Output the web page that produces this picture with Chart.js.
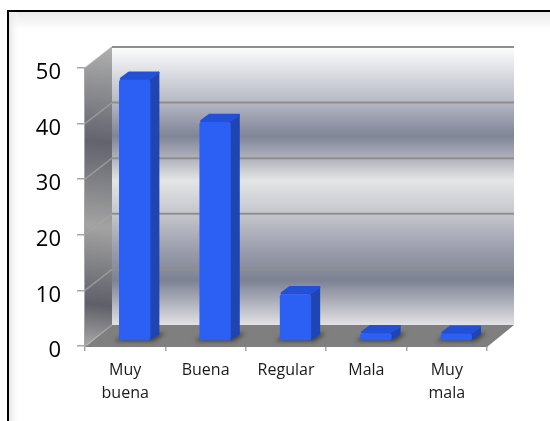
<!DOCTYPE html>
<html>
<head>
<meta charset="utf-8">
<style>
    html, body { margin: 0; padding: 0; background: #fff; overflow: hidden; }
    canvas { display: block; }
</style>
<script src="https://cdn.jsdelivr.net/npm/chart.js@4/dist/chart.umd.min.js"></script>
</head>
<body>
<canvas id="myChart" width="550" height="421"></canvas>
<script>
const categorias = [["Muy", "buena"], "Buena", "Regular", "Mala", ["Muy", "mala"]];
const valores = [47, 39.4, 8.4, 1.4, 1.3];
const ticksY = [0, 10, 20, 30, 40, 50];

// desplazamiento de la pared del fondo y de las barras respecto al eje
const fondoX = 27;
const fondoY = -21;
const barraX = 9.5;
const barraY = -5;
const ladoX = 9;
const ladoY = -8;

function poligono(ctx, puntos, color, redondeo) {
    ctx.beginPath();
    puntos.forEach((p, i) => (i ? ctx.lineTo(p[0], p[1]) : ctx.moveTo(p[0], p[1])));
    ctx.closePath();
    ctx.fillStyle = color;
    ctx.fill();
    if (redondeo) {
        ctx.strokeStyle = color;
        ctx.lineWidth = redondeo;
        ctx.lineJoin = "round";
        ctx.stroke();
    }
}

const marco = {
    id: "marco",
    beforeDraw(chart) {
        const ctx = chart.ctx;
        ctx.save();
        let g = ctx.createLinearGradient(0, 12, 0, 30);
        g.addColorStop(0, "#e9e9e9");
        g.addColorStop(1, "#ffffff");
        ctx.fillStyle = g;
        ctx.fillRect(8, 12, 542, 18);
        g = ctx.createLinearGradient(9, 0, 20, 0);
        g.addColorStop(0, "#e6e6e6");
        g.addColorStop(1, "rgba(255,255,255,0)");
        ctx.fillStyle = g;
        ctx.fillRect(9, 12, 12, 409);
        ctx.fillStyle = "#000";
        ctx.fillRect(7, 10, 543, 2);
        ctx.fillRect(7, 10, 2, 411);
        ctx.restore();
    },
};

const paredes = {
    id: "paredes",
    beforeDatasetsDraw(chart) {
        const ctx = chart.ctx;
        const { left, right } = chart.chartArea;
        const y = chart.scales.y;
        const arriba = y.getPixelForValue(50);
        const abajo = y.getPixelForValue(0);
        ctx.save();

        // pared del fondo
        let g = ctx.createLinearGradient(0, arriba + fondoY, 0, abajo + fondoY);
        g.addColorStop(0, "#fdfdfd");
        g.addColorStop(0.19, "#b9bbc6");
        g.addColorStop(0.32, "#7f8497");
        g.addColorStop(0.4, "#b0b2bb");
        g.addColorStop(0.48, "#e4e5e5");
        g.addColorStop(0.6, "#c5c6cd");
        g.addColorStop(0.73, "#9a9dab");
        g.addColorStop(0.84, "#7d8294");
        g.addColorStop(1, "#e2e2e5");
        ctx.fillStyle = g;
        ctx.fillRect(left + fondoX, arriba + fondoY, right - left, abajo - arriba);

        // pared izquierda
        g = ctx.createLinearGradient(left + fondoX, arriba + fondoY, left, abajo);
        g.addColorStop(0, "#b0b0b0");
        g.addColorStop(0.32, "#62636c");
        g.addColorStop(0.6, "#a3a3a3");
        g.addColorStop(0.86, "#5e5f68");
        g.addColorStop(1, "#a8a8a8");
        poligono(ctx, [
            [left, arriba],
            [left + fondoX, arriba + fondoY],
            [left + fondoX, abajo + fondoY],
            [left, abajo],
        ], g);

        // suelo
        poligono(ctx, [
            [left, abajo + 1],
            [right, abajo + 1],
            [right + fondoX, abajo + fondoY],
            [left + fondoX, abajo + fondoY],
        ], "#7f7f7f");

        // lineas de division
        ticksY.forEach((t) => {
            const py = y.getPixelForValue(t);
            ctx.strokeStyle = "#8e8e90";
            ctx.lineWidth = 2;
            if (t > 0) {
                ctx.beginPath();
                ctx.moveTo(left + fondoX, py + fondoY);
                ctx.lineTo(right + fondoX, py + fondoY);
                ctx.stroke();
            }
            ctx.strokeStyle = "rgba(165,165,165,0.7)";
            ctx.lineWidth = 1.5;
            ctx.beginPath();
            ctx.moveTo(left, py);
            ctx.lineTo(left + fondoX, py + fondoY);
            ctx.stroke();
        });
        ctx.restore();
    },
    beforeDatasetDraw(chart, args) {
        const ctx = chart.ctx;
        ctx.save();
        ctx.translate(barraX, barraY);
        args.meta.data.forEach((bar) => {
            const w = bar.width / 2;
            const x0 = bar.x - w;
            const x1 = bar.x + w;
            // sombra sobre el suelo
            ctx.save();
            ctx.filter = "blur(2px)";
            poligono(ctx, [
                [x0 - 5, bar.base + 1],
                [x1 + 3, bar.base + 1],
                [x1 + ladoX + 6, bar.base + ladoY + 1],
                [x0 + ladoX, bar.base + ladoY + 1],
            ], "rgba(40,40,40,0.7)");
            ctx.restore();
            // cara lateral
            poligono(ctx, [
                [x1 - 1, bar.y],
                [x1 + ladoX - 1, bar.y + ladoY + 1],
                [x1 + ladoX - 1, bar.base + ladoY + 2],
                [x1 - 1, bar.base - 1],
            ], "#1f45b2", 2);
            // cara superior
            poligono(ctx, [
                [x0 + 2, bar.y - 1],
                [x0 + ladoX + 1, bar.y + ladoY + 1],
                [x1 + ladoX - 1, bar.y + ladoY + 1],
                [x1 - 1, bar.y - 1],
            ], "#2350d6", 2.5);
        });
    },
    afterDatasetDraw(chart) {
        chart.ctx.restore();
    },
};

new Chart(document.getElementById("myChart").getContext("2d"), {
    type: "bar",
    data: {
        labels: categorias,
        datasets: [
            {
                data: valores,
                backgroundColor: "#2c60f4",
                borderRadius: 2,
                borderSkipped: false,
                categoryPercentage: 1,
                barPercentage: 0.39,
            },
        ],
    },
    plugins: [marco, paredes],
    options: {
        responsive: false,
        animation: false,
        layout: {
            padding: { top: 68, right: 63, bottom: 0, left: 0 },
        },
        plugins: {
            legend: { display: false },
            tooltip: { enabled: false },
        },
        scales: {
            y: {
                min: 0,
                max: 50,
                afterFit(scale) {
                    scale.width = 85;
                },
                afterBuildTicks(scale) {
                    scale.ticks = ticksY.map((v) => ({ value: v }));
                },
                border: { color: "#a6a6a6", width: 1.5 },
                grid: {
                    drawOnChartArea: false,
                    color: "#a6a6a6",
                    tickLength: 8,
                    lineWidth: 1.5,
                },
                ticks: {
                    padding: 16,
                    labelOffset: 5,
                    color: "#000",
                    font: { family: "Open Sans", size: 22 },
                },
            },
            x: {
                afterFit(scale) {
                    scale.height = 75;
                },
                border: { color: "#a6a6a6", width: 1.5 },
                grid: {
                    drawOnChartArea: false,
                    color: "#a6a6a6",
                    tickLength: 5,
                    lineWidth: 1.5,
                },
                ticks: {
                    maxRotation: 0,
                    autoSkip: false,
                    padding: 8,
                    color: "#1a1a1a",
                    font: { family: "Open Sans", size: 16, lineHeight: 1.44 },
                },
            },
        },
    },
});
</script>
</body>
</html>
